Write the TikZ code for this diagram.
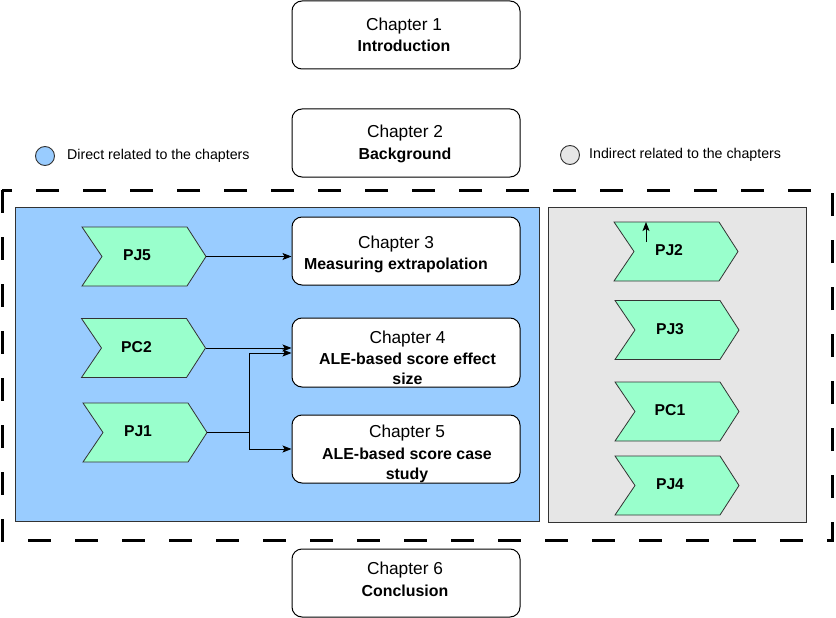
\documentclass[tikz,border=0pt]{standalone}
\usepackage{fontspec}
\setmainfont{Liberation Sans}
\usetikzlibrary{arrows.meta}
\definecolor{dblue}{HTML}{99CCFF}
\definecolor{igrey}{HTML}{E6E6E6}
\definecolor{pgreen}{HTML}{99FFCC}
\tikzset{
  chapbox/.style={draw=black, line width=1pt, rounded corners=10pt, fill=white,
    minimum width=228pt, inner sep=0pt},
  chaptext/.style={align=center, inner sep=0pt, font=\fontsize{17.3}{20}\selectfont},
  chevfill/.style={draw=black!80, line width=0.8pt, fill=pgreen},
  chevlabel/.style={minimum width=124pt, minimum height=59pt, inner sep=0pt,
    font=\bfseries\fontsize{15.7}{18}\selectfont},
  conn/.style={draw=black, line width=0.9pt, -{Stealth[length=9pt,width=7pt,inset=2pt]}},
  connline/.style={draw=black, line width=0.9pt},
  legtext/.style={anchor=west, inner sep=0pt, font=\fontsize{14.2}{16}\selectfont},
  groupbox/.style={draw=black!80, line width=0.9pt, inner sep=0pt},
}
\newcommand{\chbold}{\bfseries\fontsize{15.9}{19.5}\selectfont}
\newcommand{\mychev}[4]{%
  \filldraw[chevfill] ({#2-62},{#3-29.5}) -- ({#2+43},{#3-29.5}) -- ({#2+62},{#3})
    -- ({#2+43},{#3+29.5}) -- ({#2-62},{#3+29.5}) -- ({#2-42},{#3}) -- cycle;
  \node[chevlabel] (#1) at (#2,#3) {\hspace*{-14pt}\raisebox{2pt}{#4}};}
\begin{document}
\begin{tikzpicture}[x=1pt,y=-1pt]
\useasboundingbox (0,0) rectangle (836,618);
% legend
\node[circle, draw=black!80, line width=0.9pt, fill=dblue, minimum size=19pt, inner sep=0pt] (lgdirect) at (45,156) {};
\node[legtext] (lgdirecttext) at (67,156) {Direct related to the chapters};
\node[circle, draw=black!80, line width=0.9pt, fill=igrey, minimum size=19pt, inner sep=0pt] (lgindirect) at (570,155) {};
\node[legtext] (lgindirecttext) at (589,155) {Indirect related to the chapters};
% dashed frame
\draw[line width=3pt, dash pattern=on 23pt off 24pt] (2,190) rectangle (832,540);
% group boxes
\node[groupbox, fill=dblue, minimum width=524pt, minimum height=314pt] (directbox) at (277,364) {};
\node[groupbox, fill=igrey, minimum width=258pt, minimum height=315pt] (indirectbox) at (677,364.5) {};
% chapters
\node[chapbox, minimum height=68pt] (ch1) at (406,35) {};
\node[chapbox, minimum height=68pt] (ch2) at (406,143) {};
\node[chapbox, minimum height=68pt] (ch3) at (406,251) {};
\node[chapbox, minimum height=69pt] (ch4) at (406,352.5) {};
\node[chapbox, minimum height=68pt] (ch5) at (406,449) {};
\node[chapbox, minimum height=68pt] (ch6) at (406,583) {};
\node[chaptext] (ch1txt) at (404,35) {Chapter 1\\[1.5pt]\chbold Introduction};
\node[chaptext] (ch2txt) at (405,144) {Chapter 2\\[1.5pt]\chbold Background};
\node[chaptext] (ch3txt) at (396,254.5) {Chapter 3\\[1.5pt]\chbold Measuring extrapolation};
\node[chaptext] (ch4txt) at (407.5,358) {Chapter 4\\[1.5pt]\chbold ALE-based score effect\\\chbold size};
\node[chaptext] (ch5txt) at (407,454) {Chapter 5\\[1.5pt]\chbold ALE-based score case\\\chbold study};
\node[chaptext] (ch6txt) at (405,579.5) {Chapter 6\\[1.5pt]\chbold Conclusion};
% chevrons
\mychev{pj5}{144}{256.5}{PJ5}
\mychev{pc2}{143.5}{348}{PC2}
\mychev{pj1}{145}{432.5}{PJ1}
\mychev{pj2}{676}{251.5}{PJ2}
\mychev{pj3}{677}{330}{PJ3}
\mychev{pc1}{677}{411.5}{PC1}
\mychev{pj4}{677}{485.5}{PJ4}
% connectors
\draw[conn] (pj5.east) -- (pj5.east -| ch3.west);
\draw[conn] (pc2.east) -- (pc2.east -| ch4.west);
\coordinate (split) at (249,432.5);
\draw[connline] (pj1.east) -- (split);
\draw[conn] (split) -- (249,353) -- (ch4.west |- 0,353);
\draw[conn] (split) -- (249,449) -- (ch5.west);
\coordinate (stubstart) at (646,242);
\coordinate (stubend) at (646,222);
\draw[conn] (stubstart) -- (stubend);
\end{tikzpicture}
\end{document}
